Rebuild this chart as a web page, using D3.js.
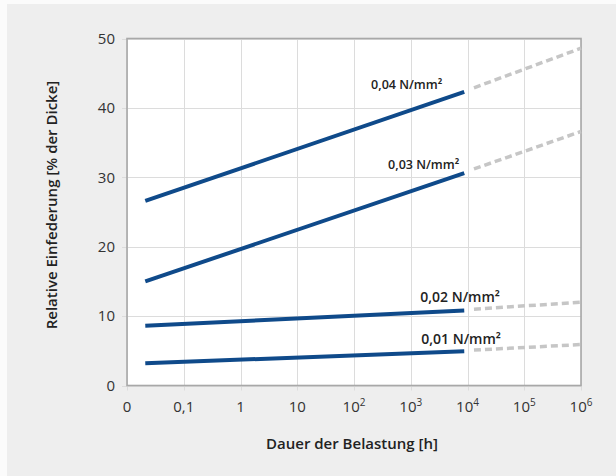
<!DOCTYPE html>
<html>
<head>
<meta charset="utf-8">
<script src="https://cdn.jsdelivr.net/npm/d3@7"></script>
<style>
  html, body { margin: 0; padding: 0; background: #fbfbfb; }
  svg { display: block; }
  text { font-family: "Open Sans", "Noto Sans", sans-serif; }
</style>
</head>
<body>
<script>
// Time axis: hours, drawn per decade; "0" stands at the first decade slot.
const tickHours = [0.01, 0.1, 1, 10, 1e2, 1e3, 1e4, 1e5, 1e6];
const tickBase = ["0", "0,1", "1", "10", "10", "10", "10", "10", "10"];
const tickExp = ["", "", "", "", "2", "3", "4", "5", "6"];
const yTicks = [0, 10, 20, 30, 40, 50];

// Measured load duration (h) and relative compression (% of thickness)
const loads = ["0,04 N/mm²", "0,03 N/mm²", "0,02 N/mm²", "0,01 N/mm²"];
const measuredHours = [0.021, 8760];
const measured004 = [26.6, 42.3];
const measured003 = [15.0, 30.6];
const measured002 = [8.6, 10.8];
const measured001 = [3.2, 4.95];

// Extrapolated trend beyond one year
const trendHours = [13000, 1e6];
const trend004 = [42.9, 48.6];
const trend003 = [31.2, 36.6];
const trend002 = [11.0, 12.0];
const trend001 = [5.1, 5.9];

const W = 616, H = 476;
const M = { left: 127, right: 35, top: 38.5, bottom: 90.5 };

const svg = d3.select("body").append("svg").attr("width", W).attr("height", H);

// panel background
svg.append("rect").attr("x", 7).attr("y", 4).attr("width", W - 7).attr("height", H - 4)
  .attr("fill", "#eeeeee");

const x = d3.scaleLog().domain([0.01, 1e6]).range([M.left, W - M.right]);
const y = d3.scaleLinear().domain([0, 50]).range([H - M.bottom, M.top]);

// plot area
svg.append("rect")
  .attr("x", x.range()[0]).attr("y", y(50))
  .attr("width", x.range()[1] - x.range()[0]).attr("height", y(0) - y(50))
  .attr("fill", "#ffffff");

// grid lines (with short outer ticks)
const grid = svg.append("g").attr("stroke", "#dcdcdc").attr("stroke-width", 1);
grid.selectAll("line.v").data(tickHours).join("line")
  .attr("x1", d => Math.round(x(d)) + 0.5).attr("x2", d => Math.round(x(d)) + 0.5)
  .attr("y1", y(50)).attr("y2", y(0) + 5);
grid.selectAll("line.h").data(yTicks).join("line")
  .attr("y1", d => Math.round(y(d)) + 0.5).attr("y2", d => Math.round(y(d)) + 0.5)
  .attr("x1", x.range()[0] - 5).attr("x2", x.range()[1]);

// frame
svg.append("rect")
  .attr("x", x.range()[0]).attr("y", y(50))
  .attr("width", x.range()[1] - x.range()[0]).attr("height", y(0) - y(50))
  .attr("fill", "none").attr("stroke", "#a8a8a8").attr("stroke-width", 1.6);

// y tick labels
svg.append("g").selectAll("text").data(yTicks).join("text")
  .attr("x", 115).attr("y", d => y(d)).attr("dy", "0.35em")
  .attr("text-anchor", "end").attr("font-size", 15).attr("fill", "#333")
  .text(d => d);

// x tick labels with superscript exponents
const xl = svg.append("g").selectAll("text").data(tickHours).join("text")
  .attr("x", d => x(d)).attr("y", 412)
  .attr("text-anchor", "middle").attr("font-size", 15).attr("fill", "#333");
xl.append("tspan").text((d, i) => tickBase[i]);
xl.append("tspan").attr("dy", -6).attr("font-size", 10).text((d, i) => tickExp[i]);

// axis titles
svg.append("text").attr("x", 352).attr("y", 449).attr("text-anchor", "middle")
  .attr("font-size", 15).attr("font-weight", 600).attr("fill", "#222")
  .text("Dauer der Belastung [h]");
svg.append("text").attr("transform", "translate(57,205) rotate(-90)")
  .attr("text-anchor", "middle").attr("font-size", 15).attr("font-weight", 600).attr("fill", "#222")
  .text("Relative Einfederung [% der Dicke]");

const line = d3.line().x(d => x(d[0])).y(d => y(d[1]));

const measured = [measured004, measured003, measured002, measured001];
const trend = [trend004, trend003, trend002, trend001];

// extrapolation (dashed)
svg.append("g").selectAll("path").data(trend).join("path")
  .attr("d", vals => line(trendHours.map((h, i) => [h, vals[i]])))
  .attr("fill", "none").attr("stroke", "#c6c6c6").attr("stroke-width", 3.5)
  .attr("stroke-dasharray", "7,4");

// measured curves
svg.append("g").selectAll("path").data(measured).join("path")
  .attr("d", vals => line(measuredHours.map((h, i) => [h, vals[i]])))
  .attr("fill", "none").attr("stroke", "#0f4a8a").attr("stroke-width", 4)
  .attr("stroke-linecap", "butt");

// load labels
const labelSpec = [
  { dx: -22, dy: -3, anchor: "end", size: 12.5 },
  { dx: -5, dy: -4, anchor: "end", size: 12.5 },
  { dx: -44, dy: -9, anchor: "start", size: 14 },
  { dx: -43, dy: -7, anchor: "start", size: 14 }
];
const endHour = measuredHours[measuredHours.length - 1];
svg.append("g").selectAll("text").data(loads).join("text")
  .attr("x", (d, i) => x(endHour) + labelSpec[i].dx)
  .attr("y", (d, i) => y(measured[i][measured[i].length - 1]) + labelSpec[i].dy)
  .attr("text-anchor", (d, i) => labelSpec[i].anchor)
  .attr("font-size", (d, i) => labelSpec[i].size)
  .attr("font-weight", 600).attr("fill", "#222")
  .text(d => d);
</script>
</body>
</html>
